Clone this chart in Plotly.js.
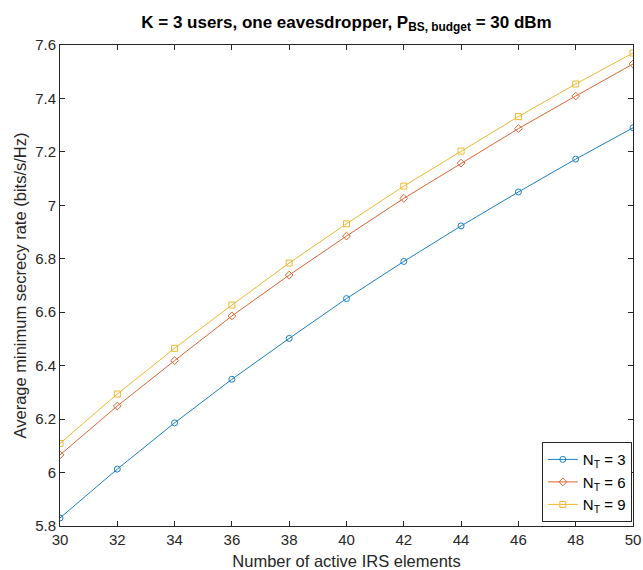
<!DOCTYPE html>
<html>
<head>
<meta charset="utf-8">
<script src="https://cdn.plot.ly/plotly-3.0.1.min.js"></script>
<style>html,body{margin:0;padding:0;background:#fff;}#chart{width:643px;height:570px;}</style>
</head>
<body>
<div id="chart"></div>
<script>
const irsElements = [30, 32, 34, 36, 38, 40, 42, 44, 46, 48, 50];
const rateNT3 = [5.830, 6.013, 6.186, 6.349, 6.502, 6.651, 6.790, 6.923, 7.050, 7.173, 7.290];
const rateNT6 = [6.066, 6.249, 6.419, 6.586, 6.739, 6.885, 7.026, 7.158, 7.287, 7.409, 7.529];
const rateNT9 = [6.109, 6.294, 6.465, 6.627, 6.784, 6.931, 7.072, 7.203, 7.332, 7.454, 7.570];
const seriesNames = ['N<sub>T</sub> = 3', 'N<sub>T</sub> = 6', 'N<sub>T</sub> = 9'];
const yTicks = [5.8, 6, 6.2, 6.4, 6.6, 6.8, 7, 7.2, 7.4, 7.6];
const xTicks = [30, 32, 34, 36, 38, 40, 42, 44, 46, 48, 50];

const fontFam = 'Liberation Sans, Arial, Helvetica, sans-serif';
const axCol = '#262626';

function mk(y, name, color, symbol) {
  return {
    x: irsElements, y: y, name: name, type: 'scatter', mode: 'lines+markers',
    line: {color: color, width: 1},
    marker: {symbol: symbol, size: 6, color: color, line: {color: color, width: 1}}
  };
}
const data = [
  mk(rateNT3, seriesNames[0], '#1a80c4', 'circle-open'),
  mk(rateNT6, seriesNames[1], '#dc6434', 'diamond-open'),
  mk(rateNT9, seriesNames[2], '#ebb830', 'square-open')
];

const layout = {
  width: 643, height: 570,
  margin: {l: 60, r: 10, t: 45, b: 44},
  paper_bgcolor: '#fff', plot_bgcolor: '#fff',
  font: {family: fontFam, color: axCol, size: 15},
  title: {
    text: '<b>K = 3 users, one eavesdropper, P<sub>BS, budget</sub> = 30 dBm</b>',
    font: {family: fontFam, size: 17, color: '#000'},
    x: 0.5, xref: 'paper', xanchor: 'center',
    y: 0.962, yref: 'container', yanchor: 'middle'
  },
  xaxis: {
    range: [30, 50], tickvals: xTicks, ticktext: xTicks.map(String),
    ticks: 'inside', ticklen: 5, tickcolor: axCol, mirror: 'ticks',
    showline: true, linecolor: axCol, linewidth: 1, showgrid: false, zeroline: false,
    tickfont: {size: 15, color: axCol},
    title: {text: 'Number of active IRS elements', font: {size: 16.5, color: axCol}, standoff: 9}
  },
  yaxis: {
    range: [5.8, 7.6], tickvals: yTicks, ticktext: yTicks.map(String),
    ticks: 'inside', ticklen: 5, tickcolor: axCol, mirror: 'ticks',
    showline: true, linecolor: axCol, linewidth: 1, showgrid: false, zeroline: false,
    tickfont: {size: 15, color: axCol},
    title: {text: 'Average minimum secrecy rate (bits/s/Hz)', font: {size: 16.5, color: axCol}, standoff: 4}
  },
  legend: {
    x: 0.998, xanchor: 'right', y: 0.008, yanchor: 'bottom',
    bgcolor: '#fff', bordercolor: axCol, borderwidth: 1,
    font: {size: 15, color: '#000'}, tracegroupgap: 0, itemwidth: 30
  },
  showlegend: true
};

Plotly.newPlot('chart', data, layout, {displayModeBar: false, staticPlot: true});
</script>
</body>
</html>
